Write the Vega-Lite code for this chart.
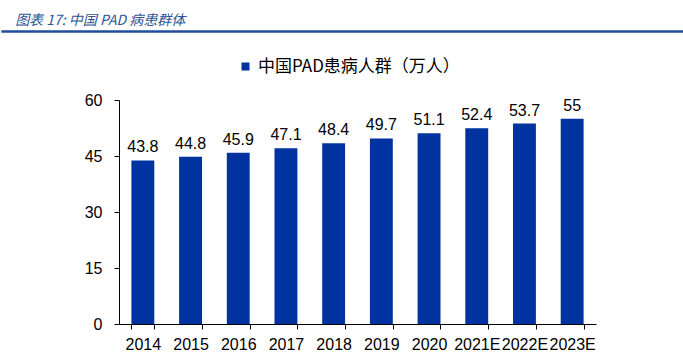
{
  "$schema": "https://vega.github.io/schema/vega-lite/v6.json",
  "padding": {"left": 0, "top": 14, "right": 0, "bottom": 0},
  "background": "white",
  "config": {"view": {"stroke": null}},
  "title": {"text": "图表 17:  中国 PAD 病患群体", "anchor": "start", "dx": 15, "font": "Noto Sans CJK SC", "fontStyle": "italic", "fontWeight": "normal", "fontSize": 14, "color": "#2F5597", "baseline": "alphabetic", "offset": -9},
  "spacing": 59,
  "center": true,
  "vconcat": [
    {
      "width": 711,
      "height": 1,
      "data": {"values": [{"v": 0}]},
      "mark": {"type": "rule", "color": "#1F4E9A", "strokeWidth": 2.5},
      "encoding": {"y": {"field": "v", "type": "quantitative", "axis": null}}
    },
    {
      "width": 477,
      "height": 224,
      "data": {"values": [
        {"year": "2014", "value": 43.8, "series": "中国PAD患病人群（万人）"},
        {"year": "2015", "value": 44.8, "series": "中国PAD患病人群（万人）"},
        {"year": "2016", "value": 45.9, "series": "中国PAD患病人群（万人）"},
        {"year": "2017", "value": 47.1, "series": "中国PAD患病人群（万人）"},
        {"year": "2018", "value": 48.4, "series": "中国PAD患病人群（万人）"},
        {"year": "2019", "value": 49.7, "series": "中国PAD患病人群（万人）"},
        {"year": "2020", "value": 51.1, "series": "中国PAD患病人群（万人）"},
        {"year": "2021E", "value": 52.4, "series": "中国PAD患病人群（万人）"},
        {"year": "2022E", "value": 53.7, "series": "中国PAD患病人群（万人）"},
        {"year": "2023E", "value": 55, "series": "中国PAD患病人群（万人）"}
      ]},
      "encoding": {
        "x": {"field": "year", "type": "ordinal", "sort": null,
          "scale": {"paddingInner": 0.52, "paddingOuter": 0.26},
          "axis": {"title": null, "labelAngle": 0, "tickBand": "extent", "domainColor": "#000", "tickColor": "#000", "labelColor": "#000", "labelFont": "Liberation Sans", "labelFontSize": 16, "labelPadding": 7, "tickSize": 5, "domainWidth": 1}},
        "y": {"field": "value", "type": "quantitative",
          "scale": {"domain": [0, 60], "nice": false},
          "axis": {"title": null, "values": [0, 15, 30, 45, 60], "grid": false, "domainColor": "#000", "tickColor": "#000", "labelColor": "#000", "labelFont": "Liberation Sans", "labelFontSize": 16, "labelPadding": 12, "tickSize": 5}}
      },
      "layer": [
        {
          "mark": {"type": "bar", "color": "#00339F"},
          "encoding": {
            "color": {"field": "series", "type": "nominal", "scale": {"range": ["#00339F"]},
              "legend": {"title": null, "orient": "none", "legendX": 236, "legendY": 27, "padding": 0, "symbolType": "square", "symbolSize": 64, "symbolStrokeWidth": 0, "labelFont": "Noto Sans CJK SC", "labelFontSize": 17, "labelColor": "#000", "labelOffset": 4, "labelLimit": 300}}
          }
        },
        {
          "mark": {"type": "text", "baseline": "bottom", "dy": -5, "font": "Liberation Sans", "fontSize": 16, "color": "#000"},
          "encoding": {"text": {"field": "value", "type": "quantitative"}}
        }
      ]
    }
  ]
}
